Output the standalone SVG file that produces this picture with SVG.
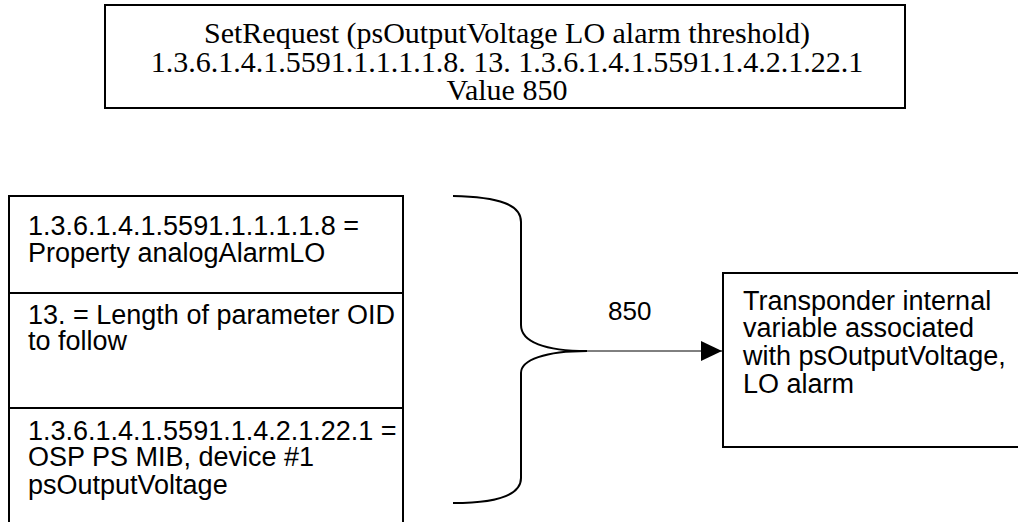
<svg xmlns="http://www.w3.org/2000/svg" width="1018" height="522" viewBox="0 0 1018 522">
<defs>
<style>
.box{fill:#fff;stroke:#000;stroke-width:2}
.div{stroke:#000;stroke-width:2}
.serif{font-family:"Liberation Serif","Times New Roman",serif;font-size:30px;fill:#000}
.sans{font-family:"Liberation Sans",Arial,sans-serif;font-size:27px;fill:#000}
.lbl{font-family:"Liberation Sans",Arial,sans-serif;font-size:26px;fill:#000}
.brace{fill:none;stroke:#000;stroke-width:2}
.conn{stroke:#000;stroke-width:1}
</style>
<marker id="arrow" markerWidth="22" markerHeight="20" refX="21" refY="10" orient="auto" markerUnits="userSpaceOnUse">
<path d="M0,0 L21,10 L0,20 Z" fill="#000"/>
</marker>
</defs>
<rect width="1018" height="522" fill="#fff"/>
<g id="setrequest">
<rect class="box" x="105" y="5" width="800" height="103"/>
<text class="serif" text-anchor="middle" x="507" y="43">SetRequest (psOutputVoltage LO alarm threshold)</text>
<text class="serif" text-anchor="middle" x="507" y="72">1.3.6.1.4.1.5591.1.1.1.1.8. 13. 1.3.6.1.4.1.5591.1.4.2.1.22.1</text>
<text class="serif" text-anchor="middle" x="507" y="100">Value 850</text>
</g>
<g id="oid-parts">
<path class="box" d="M9,530 L9,196 L403,196 L403,530"/>
<line class="div" x1="9" y1="293" x2="403" y2="293"/>
<line class="div" x1="9" y1="408" x2="403" y2="408"/>
<text class="sans" x="28" y="235">1.3.6.1.4.1.5591.1.1.1.1.8 =</text>
<text class="sans" x="28" y="262">Property analogAlarmLO</text>
<text class="sans" x="28" y="324">13. = Length of parameter OID</text>
<text class="sans" x="28" y="350">to follow</text>
<text class="sans" x="28" y="440">1.3.6.1.4.1.5591.1.4.2.1.22.1 =</text>
<text class="sans" x="28" y="466">OSP PS MIB, device #1</text>
<text class="sans" x="28" y="494">psOutputVoltage</text>
</g>
<g id="brace">
<path class="brace" d="M453,196 C500,197 521,205 521,222 L521,325 C521,342 545,351 587,351 C545,351 521,360 521,373 L521,478 C521,494 500,503 453,503"/>
</g>
<g id="transponder">
<rect class="box" x="723" y="273" width="310" height="174"/>
<text class="sans" x="743" y="310">Transponder internal</text>
<text class="sans" x="743" y="337">variable associated</text>
<text class="sans" x="743" y="365">with psOutputVoltage,</text>
<text class="sans" x="743" y="393">LO alarm</text>
</g>
<g id="connectors">
<line class="conn" x1="587" y1="351" x2="722" y2="351" marker-end="url(#arrow)"/>
<text class="lbl" x="608" y="320">850</text>
</g>
</svg>
